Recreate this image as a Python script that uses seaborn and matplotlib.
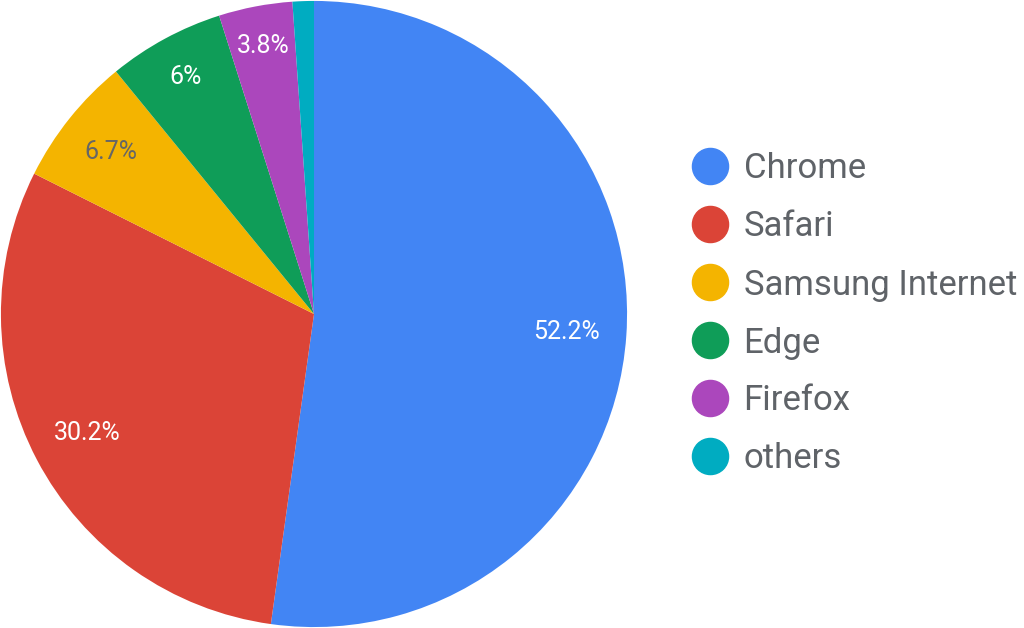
import matplotlib
matplotlib.use("Agg")
import matplotlib.pyplot as plt
import seaborn as sns
import numpy as np
from matplotlib.lines import Line2D

sns.set_theme(style="white")
plt.rcParams['font.family'] = ['Roboto', 'DejaVu Sans']

browsers = ["Chrome", "Safari", "Samsung Internet", "Edge", "Firefox", "others"]
shares = [52.2, 30.2, 6.7, 6.0, 3.8, 1.1]
colors = ["#4285F4", "#DB4437", "#F4B400", "#0F9D58", "#AB47BC", "#00ACC1"]
label_colors = ["white", "white", "#666666", "white", "white", "white"]

fig = plt.figure(figsize=(10.24, 6.28), dpi=100)
ax = fig.add_axes([0.0, 0.0, 628 / 1024, 1.0])

def fmt(v):
    return f"{v:g}%" if v >= 2 else ""

labels = [fmt(v) for v in shares]
wedges, _ = ax.pie(shares, colors=colors, startangle=90, counterclock=False,
                   radius=1.0, wedgeprops=dict(linewidth=0))

dists = [0.81, 0.82, 0.83, 0.86, 0.87, 0.87]
for w, lab, lc, d in zip(wedges, labels, label_colors, dists):
    if not lab:
        continue
    ang = np.deg2rad((w.theta1 + w.theta2) / 2)
    ax.text(d * np.cos(ang), d * np.sin(ang), lab, ha="center", va="center",
            color=lc, fontsize=18)

ax.set_xlim(-1.003, 1.003)
ax.set_ylim(-1.003, 1.003)
ax.set_aspect("equal")
ax.axis("off")

handles = [Line2D([0], [0], marker="o", linestyle="", markersize=26,
                  markerfacecolor=c, markeredgecolor=c) for c in colors]
fig.legend(handles, browsers, loc="center left", bbox_to_anchor=(688 / 1024, 0.5),
           frameon=False, fontsize=25, labelcolor="#5f6368",
           handletextpad=0.35, labelspacing=0.72, handlelength=1.25, borderpad=0,
           borderaxespad=0)

fig.savefig("out.png", dpi=100, facecolor="white")
